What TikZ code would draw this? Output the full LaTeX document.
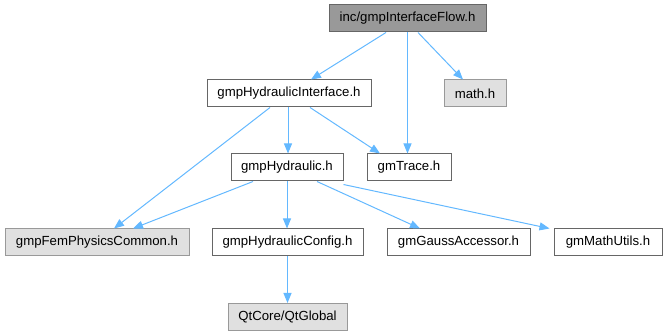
\documentclass[tikz,border=0pt]{standalone}
\usepackage{fontspec}
\setmainfont{Liberation Sans}
\usetikzlibrary{arrows.meta}
\definecolor{edgeblue}{HTML}{63B8FF}
\definecolor{rootgray}{HTML}{999999}
\definecolor{boxborder}{HTML}{666666}
\definecolor{extgray}{HTML}{E0E0E0}
\definecolor{extborder}{HTML}{999999}
\tikzset{
  filebox/.style={draw=boxborder, line width=1pt, fill=white, minimum height=27pt,
    inner sep=0pt, font=\fontsize{13.2}{15}\selectfont},
  rootbox/.style={filebox, fill=rootgray},
  extbox/.style={filebox, draw=extborder, fill=extgray},
  dep/.style={edgeblue, line width=1pt, -{Triangle[length=10pt,width=8pt]}}
}
\begin{document}
\begin{tikzpicture}[x=1pt, y=-1pt]
            \useasboundingbox (0,0) rectangle (666,336);
            % Files
            \node[rootbox, minimum width=157pt] (root) at (407.5,18.5) {inc/gmpInterfaceFlow.h};
            \node[filebox, minimum width=164pt] (hint) at (289,93.5) {gmpHydraulicInterface.h};
            \node[extbox, minimum width=62pt] (math) at (475,93.5) {math.h};
            \node[filebox, minimum width=112pt] (hyd) at (287,167.5) {gmpHydraulic.h};
            \node[filebox, minimum width=84pt] (trace) at (409,167.5) {gmTrace.h};
            \node[extbox, minimum width=184pt] (fem) at (97,242.5) {gmpFemPhysicsCommon.h};
            \node[filebox, minimum width=151pt] (config) at (287.5,242.5) {gmpHydraulicConfig.h};
            \node[filebox, minimum width=143pt] (gauss) at (458.5,242.5) {gmGaussAccessor.h};
            \node[filebox, minimum width=108pt] (mathu) at (608,242.5) {gmMathUtils.h};
            \node[extbox, minimum width=119pt] (qt) at (287.5,317) {QtCore/QtGlobal};
            % Includes
            \draw[dep] ([xshift=-21.5pt]root.south) -- ([xshift=22pt]hint.north);
            \draw[dep] (root.south) -- (root.south |- trace.north);
            \draw[dep] ([xshift=10.5pt]root.south) -- ([xshift=-12pt]math.north);
            \draw[dep] ([xshift=-19pt]hint.south) -- ([xshift=17pt]fem.north);
            \draw[dep] ([xshift=-1pt]hint.south) -- ([xshift=-1pt]hint.south |- hyd.north);
            \draw[dep] ([xshift=21pt]hint.south) -- ([xshift=-29pt]trace.north);
            \draw[dep] ([xshift=-34pt]hyd.south) -- ([xshift=36pt]fem.north);
            \draw[dep] (hyd.south) -- (config.north -| hyd.south);
            \draw[dep] ([xshift=30pt]hyd.south) -- ([xshift=-38.5pt]gauss.north);
            \draw[dep] ([yshift=-3pt]hyd.south east) -- ([xshift=-4pt]mathu.north west);
            \draw[dep] (config.south) -- (qt.north);
\end{tikzpicture}
\end{document}
